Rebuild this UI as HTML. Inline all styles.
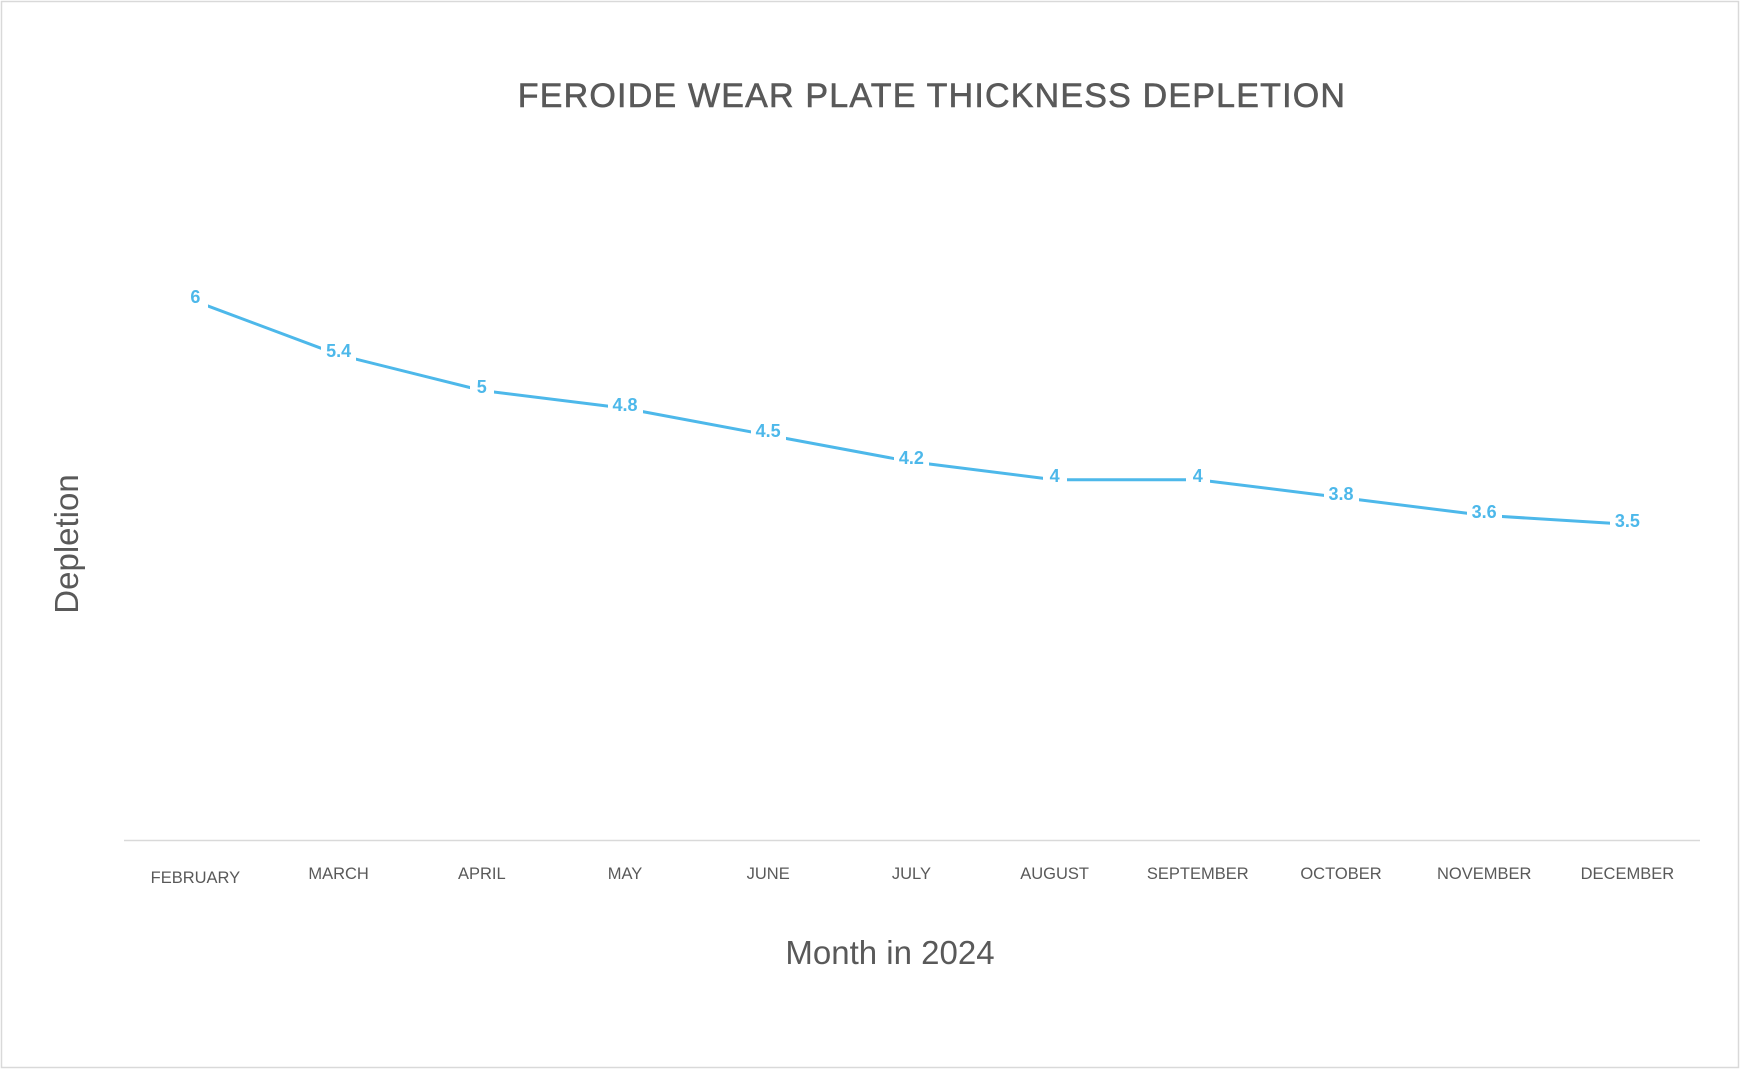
<!DOCTYPE html>
<html><head><meta charset="utf-8"><style>
html,body{margin:0;padding:0;background:#fff;}
svg{display:block;}
</style></head><body>
<svg width="1741" height="1069" viewBox="0 0 1741 1069" xmlns="http://www.w3.org/2000/svg" font-family="Liberation Sans, sans-serif">
<rect x="1.5" y="1.5" width="1737" height="1066" fill="#fff" stroke="#d9d9d9" stroke-width="1.5"/>
<text x="932" y="107" text-anchor="middle" font-size="34" letter-spacing="1.2" fill="#595959" stroke="#595959" stroke-width="0.6">FEROIDE WEAR PLATE THICKNESS DEPLETION</text>
<line x1="124" y1="840.5" x2="1700" y2="840.5" stroke="#d9d9d9" stroke-width="1.5"/>
<g font-size="16.5" fill="#595959" text-anchor="middle">
<text x="195.4" y="883">FEBRUARY</text>
<text x="338.6" y="879">MARCH</text>
<text x="481.8" y="879">APRIL</text>
<text x="625" y="879">MAY</text>
<text x="768.2" y="879">JUNE</text>
<text x="911.4" y="879">JULY</text>
<text x="1054.6" y="879">AUGUST</text>
<text x="1197.8" y="879">SEPTEMBER</text>
<text x="1341" y="879">OCTOBER</text>
<text x="1484.2" y="879">NOVEMBER</text>
<text x="1627.4" y="879">DECEMBER</text>
</g>
<text x="890" y="964" text-anchor="middle" font-size="33" fill="#595959">Month in 2024</text>
<text transform="translate(78,544) rotate(-90)" text-anchor="middle" font-size="33" fill="#595959">Depletion</text>
<g transform="translate(0,-4)">
<polyline fill="none" stroke="#4DB8EA" stroke-width="3" stroke-linejoin="round"
points="195.4,305.3 338.6,358.8 481.8,394.5 625,412.3 768.2,439.1 911.4,465.8 1054.6,483.7 1197.8,483.7 1341,501.5 1484.2,519.4 1627.4,528.3"/>
<g font-size="18" font-weight="bold" fill="#4DB8EA" text-anchor="middle">
<g fill="#fff">
<rect x="183" y="290" width="25" height="24"/>
<rect x="321" y="343" width="35" height="24"/>
<rect x="470" y="379" width="24" height="24"/>
<rect x="608" y="397" width="35" height="24"/>
<rect x="751" y="423" width="35" height="24"/>
<rect x="894" y="450" width="35" height="24"/>
<rect x="1043" y="468" width="24" height="24"/>
<rect x="1186" y="468" width="24" height="24"/>
<rect x="1324" y="486" width="35" height="24"/>
<rect x="1467" y="504" width="35" height="24"/>
<rect x="1610" y="513" width="35" height="24"/>
</g>
<text x="195.4" y="307">6</text>
<text x="338.6" y="361">5.4</text>
<text x="481.8" y="397">5</text>
<text x="625" y="415">4.8</text>
<text x="768.2" y="441">4.5</text>
<text x="911.4" y="468">4.2</text>
<text x="1054.6" y="486">4</text>
<text x="1197.8" y="486">4</text>
<text x="1341" y="504">3.8</text>
<text x="1484.2" y="522">3.6</text>
<text x="1627.4" y="531">3.5</text>
</g>
</g>
</svg>
</body></html>
